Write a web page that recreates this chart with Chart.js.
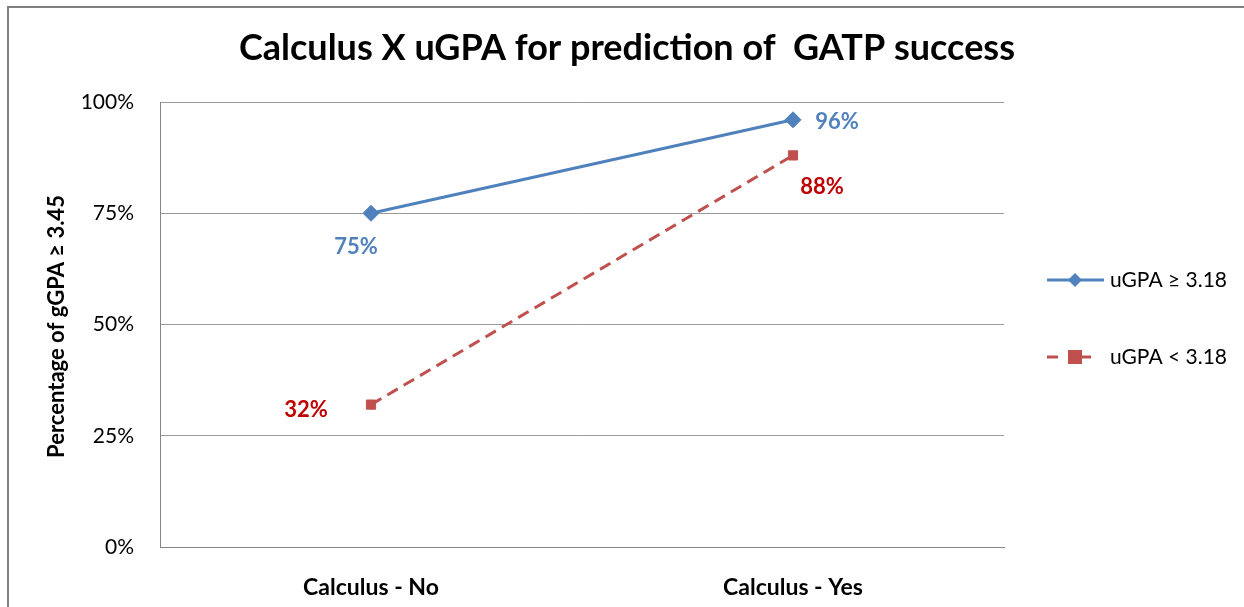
<!DOCTYPE html>
<html>
<head>
<meta charset="utf-8">
<script src="https://cdn.jsdelivr.net/npm/chart.js@4.4.1/dist/chart.umd.min.js"></script>
<style>
  html, body { margin: 0; padding: 0; background: #ffffff; }
  #wrap { width: 1244px; height: 607px; position: relative; }
</style>
</head>
<body>
<div id="wrap"><canvas id="c" width="1244" height="607"></canvas></div>
<script>
const categories = ["Calculus - No", "Calculus - Yes"];
const highGPA = [75, 96];
const lowGPA = [32, 88];
const seriesNames = ["uGPA \u2265 3.18", "uGPA < 3.18"];
const yTicks = [0, 25, 50, 75, 100];
const chartTitle = "Calculus X uGPA for prediction of  GATP success";
const yTitle = "Percentage of gGPA \u2265 3.45";

const FONT = "Lato, 'Open Sans', sans-serif";

const decorPlugin = {
  id: 'decor',
  beforeDraw(chart) {
    const ctx = chart.ctx;
    ctx.save();
    ctx.fillStyle = '#ffffff';
    ctx.fillRect(0, 0, chart.width, chart.height);
    ctx.strokeStyle = '#7f7f7f';
    ctx.lineWidth = 2;
    ctx.beginPath();
    ctx.moveTo(8, chart.height + 5);
    ctx.lineTo(8, 7);
    ctx.lineTo(chart.width + 5, 7);
    ctx.stroke();
    ctx.restore();
  },
  afterDraw(chart) {
    const ctx = chart.ctx;
    const area = chart.chartArea;
    ctx.save();
    // title
    ctx.fillStyle = '#000000';
    ctx.font = "bold 36px " + FONT;
    ctx.textAlign = 'center';
    ctx.textBaseline = 'middle';
    ctx.fillText(chartTitle, 627, 48);
    // y title
    ctx.save();
    ctx.translate(57, (area.top + area.bottom) / 2 + 2);
    ctx.rotate(-Math.PI / 2);
    ctx.font = "bold 22px " + FONT;
    ctx.fillText(yTitle, 0, 0);
    ctx.restore();

    // data labels
    const labelSpecs = [
      { ds: 0, color: '#4F81BD', offsets: [[-15, 34], [44, 2]] },
      { ds: 1, color: '#C00000', offsets: [[-65, 5], [29, 32]] }
    ];
    ctx.font = "bold 22px " + FONT;
    labelSpecs.forEach(spec => {
      const meta = chart.getDatasetMeta(spec.ds);
      const data = chart.data.datasets[spec.ds].data;
      meta.data.forEach((pt, i) => {
        ctx.fillStyle = spec.color;
        ctx.fillText(data[i] + '%', pt.x + spec.offsets[i][0], pt.y + spec.offsets[i][1]);
      });
    });

    // legend
    const legendY = [280, 357];
    chart.data.datasets.forEach((ds, i) => {
      const y = legendY[i];
      ctx.strokeStyle = ds.borderColor;
      ctx.lineWidth = 3;
      ctx.setLineDash(ds.borderDash || []);
      ctx.beginPath();
      if (i === 0) {
        ctx.moveTo(1047, y); ctx.lineTo(1104, y);
      } else {
        ctx.moveTo(1047, y); ctx.lineTo(1058, y);
        ctx.moveTo(1082, y); ctx.lineTo(1091, y);
      }
      ctx.stroke();
      ctx.setLineDash([]);
      ctx.fillStyle = ds.pointBackgroundColor;
      if (i === 0) {
        ctx.beginPath();
        ctx.moveTo(1075, y - 7); ctx.lineTo(1082, y); ctx.lineTo(1075, y + 7); ctx.lineTo(1068, y);
        ctx.closePath(); ctx.fill();
      } else {
        ctx.fillRect(1068, y - 7, 14, 14);
      }
      ctx.fillStyle = '#000000';
      ctx.font = "21px " + FONT;
      ctx.textAlign = 'left';
      ctx.fillText(ds.label, 1110, y);
      ctx.textAlign = 'center';
    });
    ctx.restore();
  }
};

new Chart(document.getElementById('c'), {
  type: 'line',
  data: {
    labels: categories,
    datasets: [
      {
        label: seriesNames[0],
        data: highGPA,
        borderColor: '#4F81BD',
        backgroundColor: '#4F81BD',
        pointBackgroundColor: '#4F81BD',
        pointBorderColor: '#4F81BD',
        borderWidth: 3,
        pointStyle: 'rectRot',
        pointRadius: 8,
        pointBorderWidth: 1,
        tension: 0
      },
      {
        label: seriesNames[1],
        data: lowGPA,
        borderColor: '#C0504D',
        backgroundColor: '#C0504D',
        pointBackgroundColor: '#C0504D',
        pointBorderColor: '#C0504D',
        borderWidth: 3,
        borderDash: [12, 7],
        pointStyle: 'rect',
        pointRadius: 6.5,
        pointBorderWidth: 1,
        tension: 0
      }
    ]
  },
  options: {
    responsive: false,
    animation: false,
    devicePixelRatio: 1,
    layout: { padding: { left: 0, right: 240, top: 102, bottom: 0 } },
    plugins: {
      legend: { display: false },
      title: { display: false },
      tooltip: { enabled: false }
    },
    scales: {
      x: {
        offset: true,
        grid: { display: false, offset: true },
        border: { display: true, color: '#868686', width: 1 },
        ticks: {
          color: '#000000',
          font: { family: FONT, size: 23, weight: 'bold' },
          padding: 19
        },
        afterFit(scale) { scale.height = 60; }
      },
      y: {
        min: 0,
        max: 100,
        afterBuildTicks(scale) { scale.ticks = yTicks.map(v => ({ value: v })); },
        grid: { color: '#9a9a9a', lineWidth: 1, drawTicks: false },
        border: { display: true, color: '#868686', width: 1 },
        ticks: {
          color: '#000000',
          font: { family: FONT, size: 21 },
          padding: 26,
          callback: v => v + '%'
        },
        afterFit(scale) { scale.width = 160; }
      }
    }
  },
  plugins: [decorPlugin]
});
</script>
</body>
</html>
